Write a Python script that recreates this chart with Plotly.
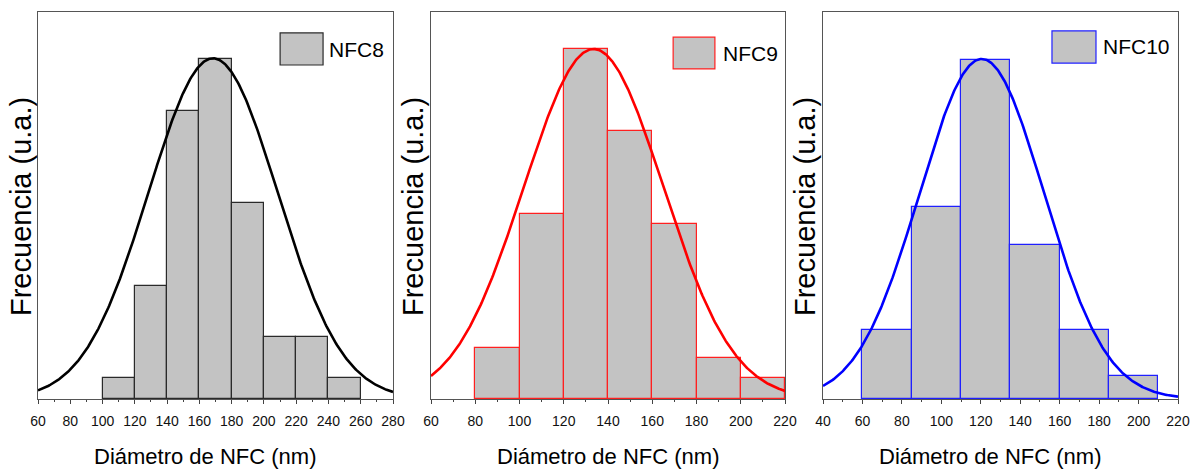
import numpy as np
import plotly.graph_objects as go

# ---------------- data ----------------
nfc8_bin_left = [100, 120, 140, 160, 180, 200, 220, 240]
nfc8_bin_width = 20
nfc8_counts = [2, 11, 28, 33, 19, 6, 6, 2]
nfc8_fit = dict(mu=168.5, sigma=40.0, peak=33.1)

nfc9_bin_left = [80, 100, 120, 140, 160, 180, 200]
nfc9_bin_width = 20
nfc9_counts = [5, 18, 34, 26, 17, 4, 2]
nfc9_fit = dict(mu=133.5, sigma=31.5, peak=34.0)

nfc10_bin_left = [60, 85, 110, 135, 160, 185]
nfc10_bin_width = 25
nfc10_counts = [9, 25, 44, 20, 9, 3]
nfc10_fit = dict(mu=120.5, sigma=31.5, peak=44.2)

x_ranges = [[60, 280], [60, 220], [40, 220]]
x_ticks = [list(range(60, 281, 20)), list(range(60, 221, 20)), list(range(40, 221, 20))]
y_tops = [37.6, 37.6, 50.3]
labels = ["NFC8", "NFC9", "NFC10"]
x_title = "Diámetro de NFC (nm)"
y_title = "Frecuencia (u.a.)"

# ---------------- style ----------------
W, H = 1192, 473
bar_fill = "#c3c3c3"
edge_colors = ["#2a2a2a", "#ff2020", "#2020ff"]
curve_colors = ["#000000", "#ff0000", "#0000ff"]
font_fam = "Liberation Sans, Arial, sans-serif"

px_x = [(38, 393), (431, 785), (823, 1178)]
px_y = (12, 399)

fig = go.Figure()

series = [
    (nfc8_bin_left, nfc8_bin_width, nfc8_counts, nfc8_fit),
    (nfc9_bin_left, nfc9_bin_width, nfc9_counts, nfc9_fit),
    (nfc10_bin_left, nfc10_bin_width, nfc10_counts, nfc10_fit),
]

for i, (left, bw, counts, fit) in enumerate(series):
    xa = "x" if i == 0 else f"x{i+1}"
    ya = "y" if i == 0 else f"y{i+1}"
    centers = [l + bw / 2 for l in left]
    fig.add_trace(go.Bar(
        x=centers, y=counts, width=[bw] * len(counts), name=labels[i],
        marker=dict(color=bar_fill, line=dict(color=edge_colors[i], width=1.2)),
        xaxis=xa, yaxis=ya, showlegend=False,
    ))
    xs = np.linspace(x_ranges[i][0], x_ranges[i][1], 400)
    ys = fit["peak"] * np.exp(-((xs - fit["mu"]) ** 2) / (2 * fit["sigma"] ** 2))
    fig.add_trace(go.Scatter(
        x=xs, y=ys, mode="lines", line=dict(color=curve_colors[i], width=2.6),
        xaxis=xa, yaxis=ya, showlegend=False, hoverinfo="skip",
    ))

layout = dict(
    width=W, height=H, margin=dict(l=0, r=0, t=0, b=0, autoexpand=False),
    paper_bgcolor="white", plot_bgcolor="white", bargap=0,
    shapes=[], annotations=[],
)

y_dom = [1 - px_y[1] / H, 1 - px_y[0] / H]
legend_pos = [
    # swatch x0,x1,y0,y1 (domain), text x, text y
    (0.682, 0.803, 0.863, 0.946, 0.815, 0.904),
    (0.684, 0.802, 0.853, 0.935, 0.820, 0.894),
    (0.645, 0.769, 0.868, 0.951, 0.784, 0.910),
]
x_title_px = [205, 608, 990]
y_title_px = [21, 413, 805]

for i in range(3):
    sx = "" if i == 0 else str(i + 1)
    layout[f"xaxis{sx}"] = dict(
        domain=[px_x[i][0] / W, px_x[i][1] / W], range=x_ranges[i],
        anchor=f"y{sx}", tickvals=x_ticks[i], ticks="outside", ticklen=4,
        tickcolor="#444", showline=True, linecolor="#555", linewidth=1,
        mirror=True, showgrid=False, zeroline=False,
        tickfont=dict(family=font_fam, size=14, color="#111"),
        ticklabelstandoff=5,
        minor=dict(dtick=10, ticks="outside", ticklen=2, tickcolor="#444"),
    )
    layout[f"yaxis{sx}"] = dict(
        domain=y_dom, range=[0, y_tops[i]], anchor=f"x{sx}",
        showticklabels=False, ticks="", showline=True, linecolor="#555",
        linewidth=1, mirror=True, showgrid=False, zeroline=False,
    )
    x0, x1, y0, y1, tx, ty = legend_pos[i]
    layout["shapes"].append(dict(
        type="rect", xref=f"x{sx} domain", yref=f"y{sx} domain",
        x0=x0, x1=x1, y0=y0, y1=y1, fillcolor=bar_fill,
        line=dict(color=edge_colors[i], width=1.2),
    ))
    layout["annotations"].append(dict(
        text=labels[i], xref=f"x{sx} domain", yref=f"y{sx} domain",
        x=tx, y=ty, xanchor="left", yanchor="middle", showarrow=False,
        font=dict(family=font_fam, size=21, color="#000"),
    ))
    layout["annotations"].append(dict(
        text=x_title, xref="paper", yref="paper",
        x=x_title_px[i] / W, y=1 - 456 / H, xanchor="center", yanchor="middle",
        showarrow=False, font=dict(family=font_fam, size=22, color="#000"),
    ))
    layout["annotations"].append(dict(
        text=y_title, xref="paper", yref="paper", textangle=-90,
        x=y_title_px[i] / W, y=1 - 207 / H, xanchor="center", yanchor="middle",
        showarrow=False, font=dict(family=font_fam, size=29, color="#000"),
    ))

fig.update_layout(**layout)
fig.write_html("out.html", config={"displayModeBar": False},
               post_script="document.body.style.margin='0px';document.body.style.padding='0px';")
